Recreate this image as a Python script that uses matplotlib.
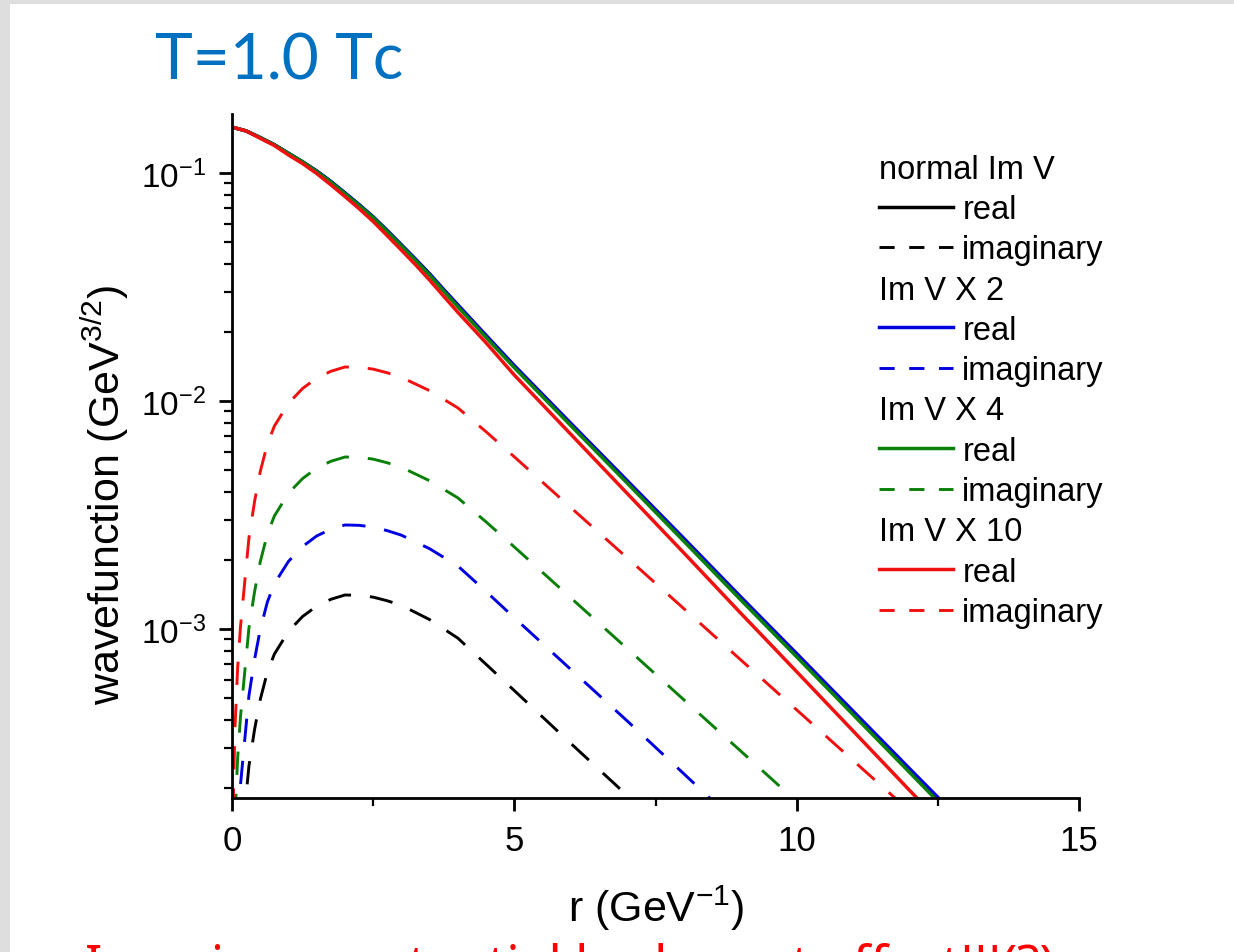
import matplotlib
matplotlib.use('Agg')
import matplotlib.pyplot as plt
from matplotlib.lines import Line2D
from matplotlib.patches import Rectangle
from matplotlib.ticker import FixedLocator, LogLocator, NullFormatter

plt.rcParams['font.family'] = ['Liberation Sans', 'DejaVu Sans']
plt.rcParams['mathtext.fontset'] = 'custom'
plt.rcParams['mathtext.rm'] = 'Liberation Sans'
plt.rcParams['mathtext.it'] = 'Liberation Sans:italic'
plt.rcParams['mathtext.bf'] = 'Liberation Sans:bold'

# ---------------- data ----------------
r_real = [0, 0.25, 0.5, 0.75, 1.0, 1.25, 1.5, 1.75, 2.0, 2.25, 2.5, 2.75, 3.0, 3.25,
          3.5, 3.75, 4.0, 4.5, 5.0, 6.0, 7.0, 8.0, 9.0, 10.0, 11.0, 12.0, 13.0]
real_normal = [0.159, 0.153, 0.143, 0.133, 0.122, 0.112, 0.102, 0.0918, 0.0817, 0.0726,
               0.0641, 0.0558, 0.0483, 0.0418, 0.0360, 0.0307, 0.0263, 0.0193, 0.0142,
               7.94e-3, 4.44e-3, 2.48e-3, 1.38e-3, 7.73e-4, 4.32e-4, 2.41e-4, 1.35e-4]
real_x2 = [0.159, 0.153, 0.143, 0.133, 0.122, 0.112, 0.102, 0.0918, 0.0818, 0.0727,
           0.0642, 0.0559, 0.0484, 0.0419, 0.0361, 0.0308, 0.0264, 0.0194, 0.0143,
           7.98e-3, 4.47e-3, 2.50e-3, 1.39e-3, 7.80e-4, 4.36e-4, 2.44e-4, 1.37e-4]
real_x4 = [0.159, 0.153, 0.143, 0.133, 0.122, 0.112, 0.1015, 0.0913, 0.0812, 0.0721,
           0.0637, 0.0553, 0.0479, 0.0414, 0.0356, 0.0303, 0.0259, 0.0190, 0.0140,
           7.80e-3, 4.36e-3, 2.43e-3, 1.35e-3, 7.55e-4, 4.21e-4, 2.35e-4, 1.31e-4]
real_x10 = [0.159, 0.153, 0.142, 0.132, 0.120, 0.110, 0.0995, 0.0888, 0.0789, 0.0698,
            0.0613, 0.0531, 0.0459, 0.0396, 0.0339, 0.0288, 0.0245, 0.0180, 0.0130,
            7.15e-3, 3.93e-3, 2.16e-3, 1.18e-3, 6.50e-4, 3.57e-4, 1.96e-4, 1.08e-4]

r_imag = [0.02, 0.05, 0.1, 0.15, 0.2, 0.3, 0.4, 0.5, 0.625, 0.75, 1.0, 1.25, 1.5, 1.75,
          2.0, 2.25, 2.5, 2.75, 3.0, 3.5, 4.0, 4.5, 5.0, 6.0, 7.0, 8.0, 9.0, 10.0,
          11.0, 12.0, 13.0]
imag_normal = [1.58e-5, 3.55e-5, 6.76e-5, 1.02e-4, 1.38e-4, 2.51e-4, 3.63e-4, 4.90e-4,
               6.46e-4, 7.76e-4, 9.77e-4, 1.135e-3, 1.26e-3, 1.35e-3, 1.41e-3, 1.406e-3,
               1.38e-3, 1.33e-3, 1.27e-3, 1.10e-3, 9.12e-4, 7.0e-4, 5.37e-4, 3.15e-4,
               1.86e-4, 1.08e-4, 6.3e-5, 3.7e-5, 2.1e-5, 1.2e-5, 7.0e-6]
imag_x2 = [3.21e-5, 7.21e-5, 1.37e-4, 2.07e-4, 2.80e-4, 5.10e-4, 7.37e-4, 9.95e-4,
           1.31e-3, 1.58e-3, 1.98e-3, 2.30e-3, 2.56e-3, 2.74e-3, 2.86e-3, 2.85e-3,
           2.80e-3, 2.70e-3, 2.58e-3, 2.25e-3, 1.89e-3, 1.46e-3, 1.12e-3, 6.65e-4,
           3.95e-4, 2.32e-4, 1.36e-4, 7.9e-5, 4.6e-5, 2.7e-5, 1.6e-5]
imag_x4 = [6.37e-5, 1.43e-4, 2.72e-4, 4.11e-4, 5.56e-4, 1.01e-3, 1.46e-3, 1.97e-3,
           2.60e-3, 3.13e-3, 3.94e-3, 4.57e-3, 5.08e-3, 5.44e-3, 5.68e-3, 5.67e-3,
           5.56e-3, 5.36e-3, 5.12e-3, 4.47e-3, 3.76e-3, 2.95e-3, 2.29e-3, 1.37e-3,
           8.2e-4, 4.9e-4, 2.93e-4, 1.75e-4, 1.04e-4, 6.2e-5, 3.7e-5]
imag_x10 = [1.58e-4, 3.55e-4, 6.76e-4, 1.02e-3, 1.38e-3, 2.51e-3, 3.63e-3, 4.90e-3,
            6.46e-3, 7.76e-3, 9.77e-3, 1.135e-2, 1.26e-2, 1.35e-2, 1.41e-2, 1.406e-2,
            1.38e-2, 1.33e-2, 1.27e-2, 1.11e-2, 9.33e-3, 7.33e-3, 5.69e-3, 3.41e-3,
            2.05e-3, 1.23e-3, 7.36e-4, 4.42e-4, 2.65e-4, 1.59e-4, 9.5e-5]

group_titles = ["normal Im V", "Im V X 2", "Im V X 4", "Im V X 10"]
series_labels = ["real", "imaginary"]
colors = ['#000000', '#0000e0', '#0a800a', '#f01010']

x_ticks = [0, 5, 10, 15]
x_minor = [2.5, 7.5, 12.5]

title_text = "T=1.0 Tc"
bottom_text = "Imaginary potential had great effect!!!(?)"

# ---------------- figure ----------------
W, H = 1234, 953
fig = plt.figure(figsize=(W / 100, H / 100), dpi=100)
fig.patch.set_facecolor('white')
fig.patches.append(Rectangle((0, 0), 10 / W, 1, transform=fig.transFigure,
                             facecolor='#dedede', edgecolor='none', zorder=0))
fig.patches.append(Rectangle((0, 1 - 5 / H), 1, 5 / H, transform=fig.transFigure,
                             facecolor='#dedede', edgecolor='none', zorder=0))

ax = fig.add_axes([232 / W, 1 - 799 / H, 847 / W, (799 - 115) / H])
ax.set_facecolor('none')

reals = [real_normal, real_x2, real_x4, real_x10]
imags = [imag_normal, imag_x2, imag_x4, imag_x10]
dash = (8, 6.5)
for c, re, im in zip(colors, reals, imags):
    ax.plot(r_real, re, color=c, lw=2.5, solid_capstyle='butt', solid_joinstyle='round')
    ax.plot(r_imag, im, color=c, lw=2.1, dashes=dash)

ax.set_yscale('log')
ax.set_xlim(0, 15)
ax.set_ylim(1.815e-4, 0.1815)

ax.xaxis.set_major_locator(FixedLocator(x_ticks))
ax.xaxis.set_minor_locator(FixedLocator(x_minor))
ax.yaxis.set_major_locator(LogLocator(base=10))
ax.yaxis.set_minor_locator(LogLocator(base=10, subs=range(2, 10)))
ax.yaxis.set_minor_formatter(NullFormatter())

for s in ['top', 'right']:
    ax.spines[s].set_visible(False)
for s in ['left', 'bottom']:
    ax.spines[s].set_linewidth(2)

ax.tick_params(which='major', direction='out', length=9.5, width=2,
               labelsize=25, pad=6)
ax.tick_params(axis='x', which='major', pad=9)
ax.tick_params(axis='y', which='major', pad=9, labelsize=24)
ax.tick_params(which='minor', direction='out', length=6, width=1.6)

ax.set_xlabel(r"r (GeV$^{\mathregular{-1}}$)", fontsize=31)
ax.xaxis.set_label_coords(0.5006, -0.124)
ax.set_ylabel(r"wavefunction (GeV$^{\mathregular{3/2}}$)", fontsize=31)
ax.yaxis.set_label_coords(-0.119, 0.444)

# legend
handles, labels = [], []
for c, t in zip(colors, group_titles):
    handles.append(Line2D([], [], color='none'))
    labels.append(t)
    handles.append(Line2D([], [], color=c, lw=2.5))
    labels.append(series_labels[0])
    handles.append(Line2D([], [], color=c, lw=2.1, dashes=(5.2, 5.0)))
    labels.append(series_labels[1])
leg = ax.legend(handles, labels, loc='upper left', bbox_to_anchor=(0.764, 0.942),
                frameon=False, fontsize=23.5, handlelength=2.27, handletextpad=0.28,
                labelspacing=0.285, borderpad=0, borderaxespad=0)
# header rows: remove the empty handle area so the text starts at the line start
rows = leg._legend_handle_box.get_children()[0].get_children()
for i, row in enumerate(rows):
    if i % 3 == 0:
        row.sep = 0
        row.get_children()[0].width = 0

fig.text(155 / W, 1 - 80 / H, title_text, color='#0070c0', fontsize=46,
         family=['Lato', 'DejaVu Sans'], va='baseline', ha='left')
fig.text(85 / W, 1 - 982 / H, bottom_text, color='#ff0000', fontsize=37,
         family=['Noto Sans', 'DejaVu Sans'], va='baseline', ha='left')

fig.savefig('out.png', dpi=100)
